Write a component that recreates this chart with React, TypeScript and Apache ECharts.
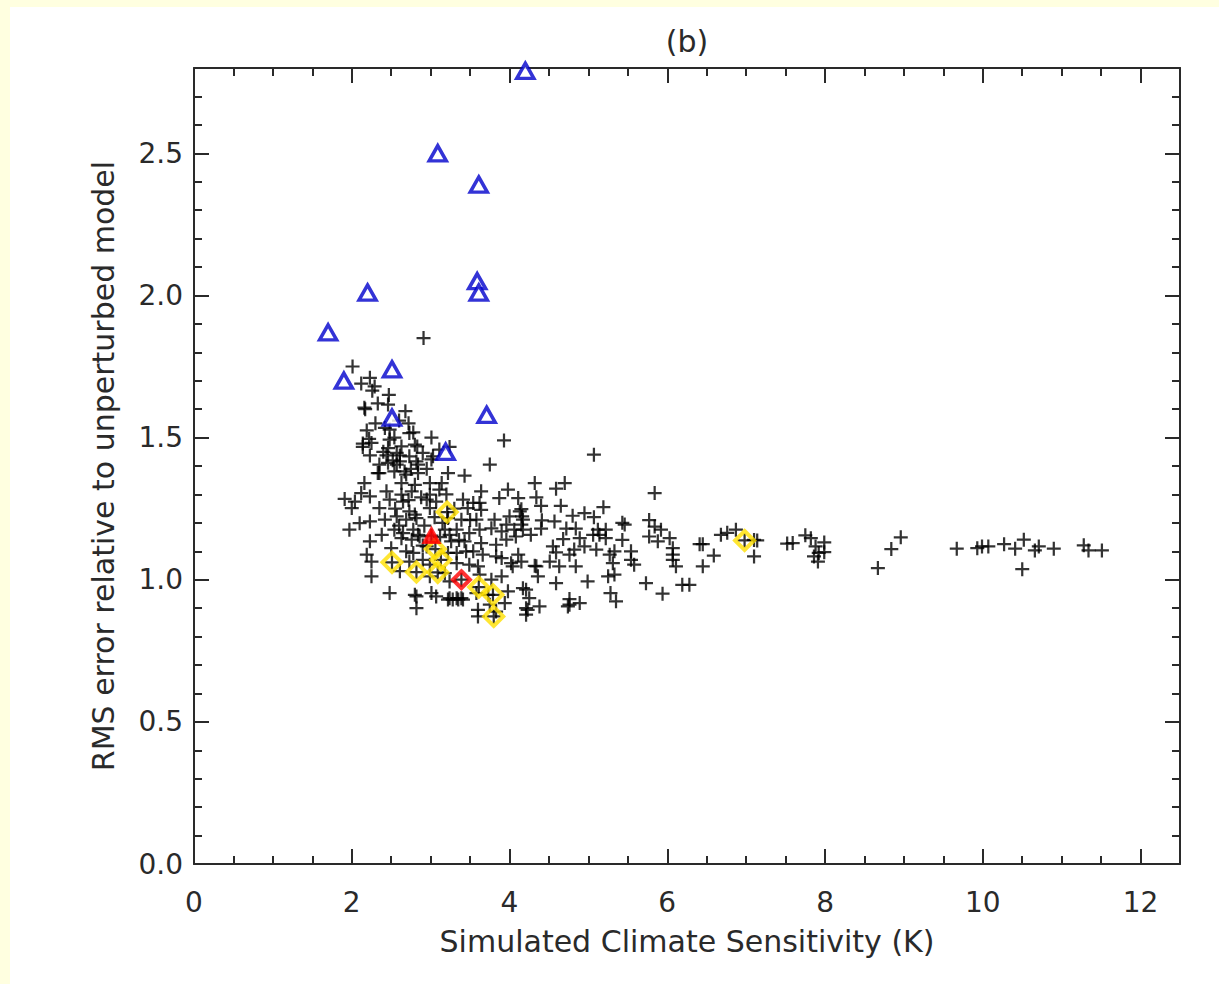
import React, { useEffect, useRef } from "react";
import * as echarts from "echarts";

// ---- data (x = simulated climate sensitivity K, y = RMS error relative) ----
const plusUpper: number[][] = [
  [2.91, 1.85], [2.01, 1.75], [2.23, 1.71], [2.12, 1.69], [2.29, 1.68], [2.26, 1.665], [2.47, 1.65],
  [2.16, 1.605], [2.17, 1.6], [2.33, 1.62], [2.46, 1.616], [2.68, 1.593], [2.72, 1.55], [2.42, 1.534],
  [2.19, 1.525], [2.48, 1.528], [2.78, 1.518], [2.22, 1.495], [2.54, 1.5], [3.01, 1.5], [2.14, 1.467],
  [2.46, 1.463], [2.63, 1.469], [2.83, 1.469], [2.23, 1.437], [2.44, 1.437], [2.61, 1.437], [2.73, 1.434],
  [2.9, 1.446], [3.24, 1.467], [3.11, 1.458], [3.93, 1.49], [3.75, 1.405], [2.35, 1.405], [2.57, 1.405],
  [2.84, 1.405], [2.35, 1.375], [2.67, 1.381], [3.22, 1.375], [3.43, 1.366], [3.01, 1.423],
  [2.73, 1.516], [2.14, 1.479], [2.25, 1.481], [2.48, 1.493], [2.8, 1.475], [2.57, 1.446], [2.46, 1.411],
  [2.61, 1.416], [2.82, 1.416], [3.03, 1.434], [2.33, 1.375], [2.54, 1.381], [2.69, 1.37], [2.84, 1.375],
  [2.4, 1.45], [2.52, 1.42], [2.75, 1.39], [2.95, 1.39], [2.3, 1.55], [2.6, 1.56],
];
const plusCore: number[][] = [
  [2.16, 1.34], [2.63, 1.34], [2.8, 1.334], [2.99, 1.34], [3.14, 1.34],
  [2.12, 1.305], [2.23, 1.293], [2.44, 1.311], [2.63, 1.299], [2.76, 1.311], [2.99, 1.299], [3.11, 1.317],
  [3.64, 1.311], [3.98, 1.317],
  [1.91, 1.284], [2.04, 1.275], [2.48, 1.282], [2.65, 1.275], [2.95, 1.282], [3.07, 1.275], [3.41, 1.282],
  [3.54, 1.27], [3.62, 1.27], [3.87, 1.287], [4.11, 1.287],
  [2.0, 1.252], [2.35, 1.252], [2.8, 1.229], [2.73, 1.24], [2.99, 1.252], [3.47, 1.252], [3.64, 1.246], [4.15, 1.248],
  [2.1, 1.199], [2.23, 1.205], [2.42, 1.211], [2.57, 1.223], [2.82, 1.217], [2.69, 1.211], [3.22, 1.217],
  [3.39, 1.211], [3.58, 1.211], [3.81, 1.211], [4.0, 1.223], [4.17, 1.211],
  [1.97, 1.176], [2.38, 1.158], [2.54, 1.176], [2.65, 1.164], [2.84, 1.158], [2.78, 1.176], [3.18, 1.176],
  [3.24, 1.158], [3.33, 1.176], [3.49, 1.164], [3.62, 1.176], [3.77, 1.181], [4.06, 1.176],
  [2.23, 1.135], [2.63, 1.146], [2.76, 1.141], [2.86, 1.152], [3.26, 1.135], [3.43, 1.135], [3.64, 1.129],
  [3.96, 1.141], [3.83, 1.123],
  [2.19, 1.088], [2.5, 1.111], [2.69, 1.1], [2.78, 1.094], [2.95, 1.117], [3.22, 1.094], [3.33, 1.094],
  [3.54, 1.1], [3.66, 1.088], [3.83, 1.082], [4.11, 1.088],
  [2.25, 1.064], [2.73, 1.064], [2.9, 1.07], [2.99, 1.053], [3.33, 1.058], [3.49, 1.053], [3.6, 1.047],
  [4.02, 1.058], [4.15, 1.064],
  [2.25, 1.012], [2.61, 1.03], [2.99, 1.012], [3.18, 1.023], [3.24, 0.994], [3.62, 1.018], [3.77, 1.0], [3.9, 1.012],
  [2.48, 0.953], [2.8, 0.947], [3.01, 0.953], [3.24, 0.935], [3.33, 0.935], [3.39, 0.935], [3.58, 0.953],
  [3.73, 0.947], [3.98, 0.959], [4.21, 0.965],
  [2.82, 0.9], [3.6, 0.894], [3.6, 0.871], [3.83, 0.888],
  [2.82, 0.941], [3.07, 0.941], [3.22, 0.93], [3.28, 0.93], [3.35, 0.93], [3.41, 0.93], [3.75, 0.912],
  [2.88, 1.29], [3.05, 1.22], [2.92, 1.19], [3.12, 1.15], [3.3, 1.25], [3.36, 1.14], [2.6, 1.19],
  [2.72, 1.28], [3.2, 1.3], [2.9, 1.12], [3.45, 1.1], [3.15, 1.2], [2.55, 1.25], [3.5, 1.21],
];
const plusMid: number[][] = [
  [4.25, 0.935], [4.23, 0.894], [4.38, 0.906], [4.74, 0.906], [4.99, 0.994], [5.28, 0.953], [5.35, 0.924],
  [5.33, 1.018], [4.59, 0.988], [4.34, 1.047], [4.36, 1.012], [4.63, 1.047], [4.84, 1.047],
  [5.07, 1.44], [4.32, 1.34], [4.7, 1.34], [4.59, 1.32], [5.84, 1.305], [4.34, 1.29], [4.4, 1.26],
  [4.65, 1.26], [5.19, 1.255], [4.13, 1.24], [4.95, 1.234], [4.8, 1.225], [5.07, 1.22], [4.16, 1.223],
  [5.77, 1.21], [4.41, 1.209], [4.57, 1.205], [5.43, 1.2], [5.46, 1.194], [3.96, 1.194], [4.15, 1.194],
  [4.72, 1.18], [4.84, 1.18], [4.4, 1.18], [5.84, 1.187], [5.12, 1.176], [5.22, 1.176], [5.92, 1.176],
  [4.17, 1.176], [3.9, 1.17], [5.06, 1.158], [5.14, 1.158], [5.77, 1.152], [4.08, 1.152], [4.27, 1.158],
  [4.89, 1.146], [5.22, 1.146], [4.68, 1.143], [6.03, 1.146], [6.68, 1.158], [6.87, 1.176], [6.76, 1.165],
  [7.1, 1.14], [6.41, 1.125], [6.45, 1.125], [5.43, 1.14], [5.88, 1.135], [4.95, 1.117], [4.55, 1.117],
  [6.07, 1.111], [4.82, 1.106], [5.1, 1.106], [5.33, 1.1], [5.54, 1.1], [4.59, 1.096], [4.76, 1.088],
  [5.27, 1.088], [6.07, 1.088], [6.59, 1.085], [4.51, 1.064], [4.32, 1.049], [5.31, 1.058], [5.54, 1.07],
  [5.58, 1.053], [6.07, 1.07], [6.11, 1.047], [6.45, 1.047], [4.04, 1.047], [3.9, 1.076], [5.25, 1.012],
  [5.73, 0.988], [6.19, 0.982], [6.28, 0.982], [4.17, 0.97], [5.94, 0.951], [4.76, 0.932], [4.89, 0.918],
  [4.76, 0.912], [4.21, 0.9], [3.94, 0.918], [4.21, 0.877],
];
const plusTail: number[][] = [
  [7.14, 1.138], [7.1, 1.082], [7.52, 1.127], [7.59, 1.129], [7.75, 1.156], [7.82, 1.146], [7.88, 1.117],
  [7.99, 1.131], [7.99, 1.097], [7.86, 1.082], [7.91, 1.064], [7.92, 1.094], [8.67, 1.041], [8.84, 1.108],
  [8.96, 1.149], [9.67, 1.109], [9.93, 1.111], [9.99, 1.117], [10.07, 1.117], [10.27, 1.125], [10.41, 1.109],
  [10.52, 1.141], [10.5, 1.037], [10.66, 1.103], [10.71, 1.117], [10.9, 1.109], [11.28, 1.121], [11.34, 1.103],
  [11.51, 1.103],
];
const yellowDiamonds: number[][] = [
  [3.21, 1.238], [2.51, 1.061], [2.82, 1.027], [3.06, 1.108], [3.13, 1.07], [3.09, 1.026],
  [3.61, 0.974], [3.79, 0.947], [3.8, 0.871], [6.98, 1.138],
];
const redTriangles: number[][] = [[3.01, 1.155]];
const redDiamonds: number[][] = [[3.39, 1.0]];
const blueTriangles: number[][] = [
  [4.2, 2.79], [3.09, 2.5], [3.61, 2.39], [3.59, 2.05], [3.61, 2.01], [2.2, 2.01], [1.7, 1.87],
  [1.9, 1.7], [2.51, 1.74], [2.51, 1.57], [3.71, 1.58], [3.19, 1.45],
];

const xMin = 0, xMax = 12.5, xMajor = 2, xMinor = 0.5;
const yMin = 0, yMax = 2.8, yMajor = 0.5, yMinor = 0.1;
const xTitle = "Simulated Climate Sensitivity (K)";
const yTitle = "RMS error relative to unperturbed model";
const panelTitle = "(b)";

const PLUS = "path://M4.2,0H5.8V4.2H10V5.8H5.8V10H4.2V5.8H0V4.2H4.2Z";
const INK = "#2a2a2a";
const FONT = "DejaVu Sans";

export default function App() {
  const ref = useRef<HTMLDivElement>(null);
  useEffect(() => {
    document.body.style.margin = "0";
    const chart = echarts.init(ref.current!, null, { renderer: "svg" });
    const mkLine = (show: boolean) => ({ show, onZero: false, lineStyle: { color: INK, width: 2 } });
    const mkX = (pos: string, interval: number, len: number, labels: boolean, showLine: boolean) => ({
      type: "value", position: pos, min: xMin, max: xMax, interval,
      axisLine: mkLine(showLine),
      axisTick: { show: true, inside: true, length: len, lineStyle: { color: INK, width: 2 } },
      axisLabel: labels
        ? { show: true, showMaxLabel: false, fontSize: 28, color: INK, fontFamily: FONT, margin: 24 }
        : { show: false },
      splitLine: { show: false },
      ...(labels
        ? { name: xTitle, nameLocation: "middle", nameGap: 62,
            nameTextStyle: { fontSize: 30, color: INK, fontFamily: FONT } }
        : {}),
    });
    const mkY = (pos: string, interval: number, len: number, labels: boolean, showLine: boolean) => ({
      type: "value", position: pos, min: yMin, max: yMax, interval,
      axisLine: mkLine(showLine),
      axisTick: { show: true, inside: true, length: len, lineStyle: { color: INK, width: 2 } },
      axisLabel: labels
        ? { show: true, showMaxLabel: false, fontSize: 28, color: INK, fontFamily: FONT, margin: 11,
            formatter: (v: number) => v.toFixed(1) }
        : { show: false },
      splitLine: { show: false },
      ...(labels
        ? { name: yTitle, nameLocation: "middle", nameGap: 76, nameRotate: 90,
            nameTextStyle: { fontSize: 30, color: INK, fontFamily: FONT } }
        : {}),
    });
    const plusAll = [...plusUpper, ...plusCore, ...plusMid, ...plusTail, ...yellowDiamonds, ...redTriangles, ...redDiamonds];
    chart.setOption({
      animation: false,
      backgroundColor: "#FFFFE0",
      graphic: [
        { type: "rect", left: 10, top: 7, shape: { width: 1209, height: 977 }, style: { fill: "#fff" }, z: -10 },
        { type: "text", x: 687, y: 41, z: 10,
          style: { text: panelTitle, fontSize: 30, fill: INK, fontFamily: FONT, textAlign: "center", textVerticalAlign: "middle" } },
      ],
      grid: { left: 194, top: 68, width: 986, height: 796 },
      xAxis: [
        mkX("bottom", xMajor, 15, true, true),
        mkX("bottom", xMinor, 8, false, false),
        mkX("top", xMajor, 15, false, true),
        mkX("top", xMinor, 8, false, false),
      ],
      yAxis: [
        mkY("left", yMajor, 15, true, true),
        mkY("left", yMinor, 8, false, false),
        mkY("right", yMajor, 15, false, true),
        mkY("right", yMinor, 8, false, false),
      ],
      series: [
        { type: "scatter", data: plusAll, symbol: PLUS, symbolSize: 14, itemStyle: { color: "#000" }, z: 2 },
        { type: "scatter", data: yellowDiamonds, symbol: "diamond", symbolSize: 19,
          itemStyle: { color: "rgba(0,0,0,0)", borderColor: "#FFE000", borderWidth: 4 }, z: 3 },
        { type: "scatter", data: redDiamonds, symbol: "diamond", symbolSize: 17,
          itemStyle: { color: "rgba(0,0,0,0)", borderColor: "#FF0000", borderWidth: 4 }, z: 4 },
        { type: "scatter", data: redTriangles, symbol: "triangle", symbolSize: [15, 14],
          itemStyle: { color: "#FF0000", borderColor: "#FF0000", borderWidth: 3 }, z: 4 },
        { type: "scatter", data: blueTriangles, symbol: "triangle", symbolSize: [17, 15],
          itemStyle: { color: "#fff", borderColor: "#0000CC", borderWidth: 3.5 }, z: 5 },
      ],
    });
    return () => chart.dispose();
  }, []);
  return <div ref={ref} style={{ width: 1219, height: 984 }} />;
}
